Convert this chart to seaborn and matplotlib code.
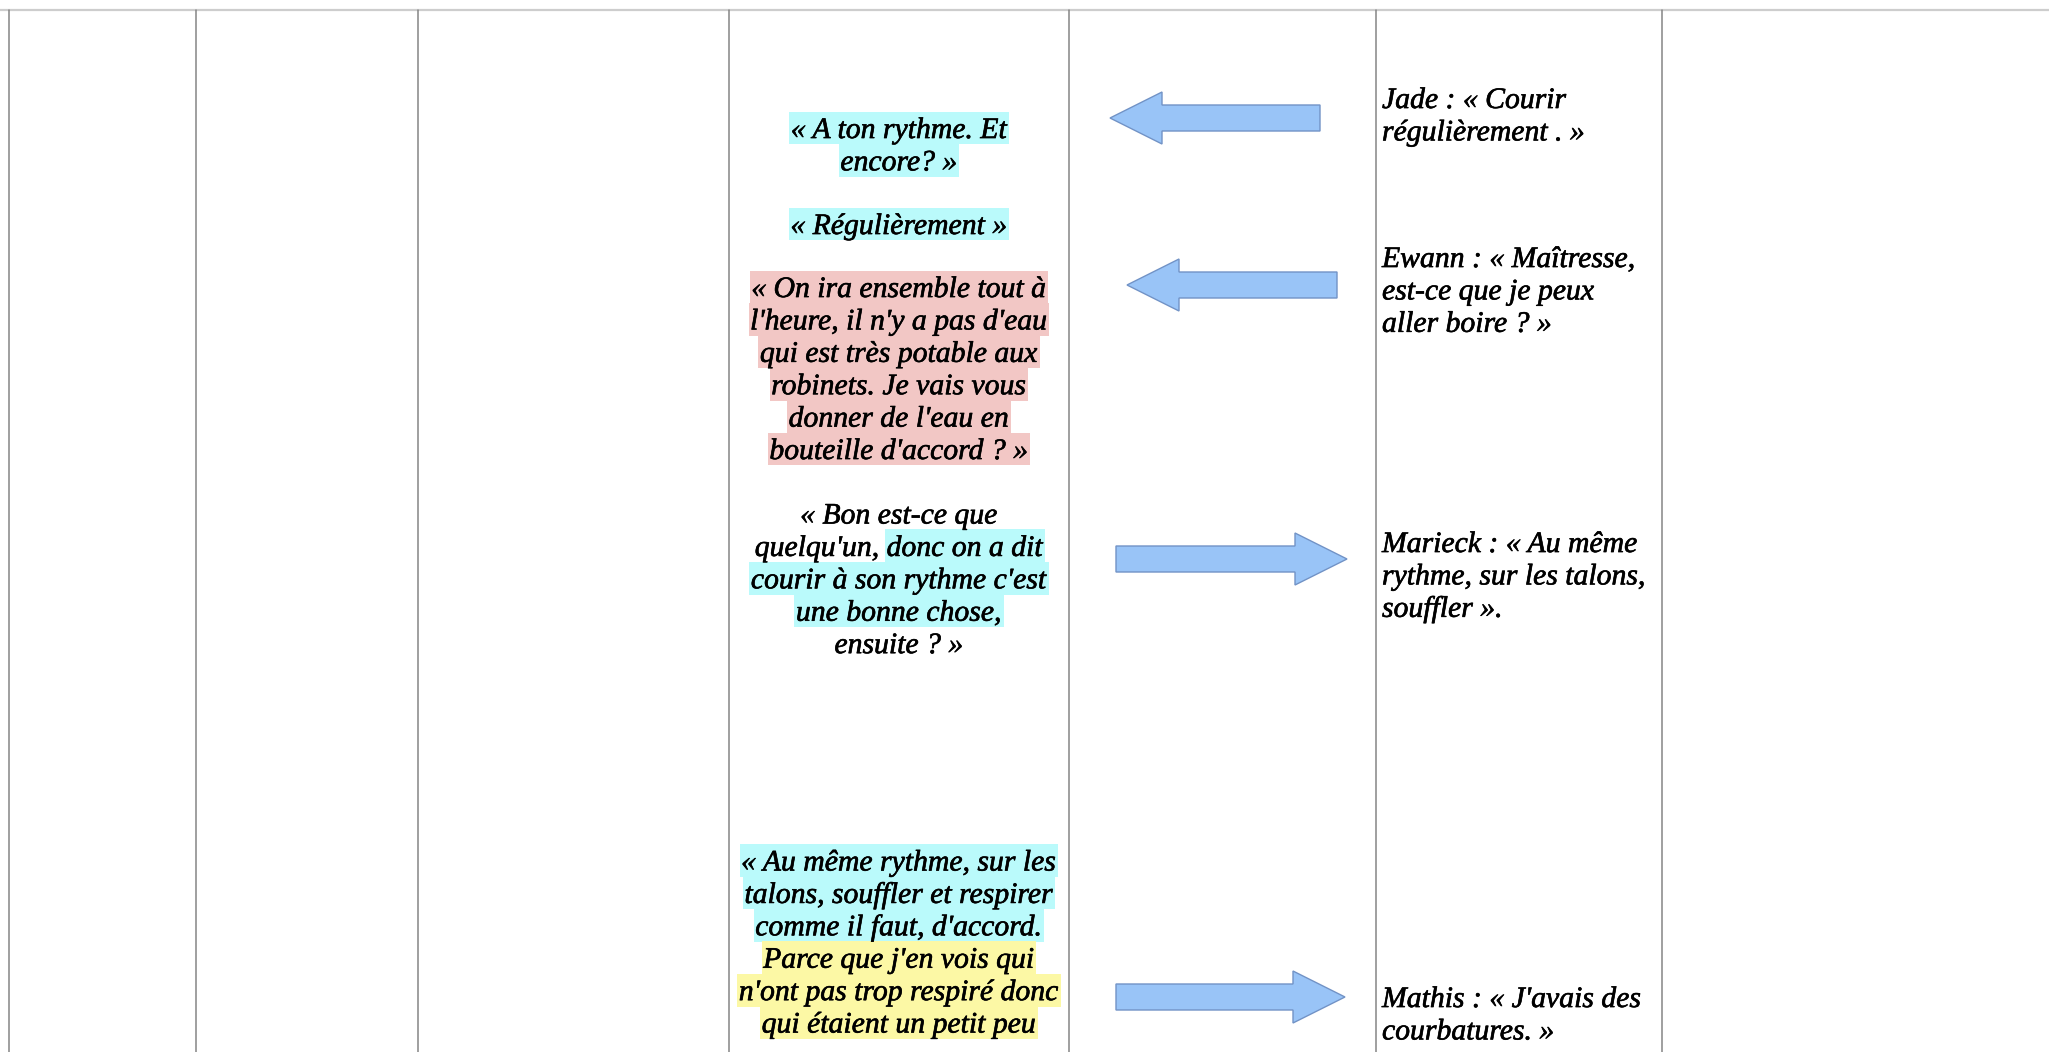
import matplotlib
matplotlib.use("Agg")
import matplotlib.pyplot as plt
from matplotlib.patches import FancyArrow, Rectangle
import matplotlib.patheffects as pe
import seaborn as sns

# paroles de l'enseignante (colonne centrale), par paragraphe
teacher_blocks = [
    ["« A ton rythme. Et", "encore? »"],
    ["« Régulièrement »"],
    ["« On ira ensemble tout à", "l'heure, il n'y a pas d'eau", "qui est très potable aux",
     "robinets. Je vais vous", "donner de l'eau en", "bouteille d'accord ? »"],
    ["« Bon est-ce que", "quelqu'un, donc on a dit", "courir à son rythme c'est",
     "une bonne chose,", "ensuite ? »"],
    ["« Au même rythme, sur les", "talons, souffler et respirer", "comme il faut, d'accord.",
     "Parce que j'en vois qui", "n'ont pas trop respiré donc", "qui étaient un petit peu"],
]
# surlignage de chaque ligne (None = pas de surlignage)
teacher_hl = [
    ["cyan", "cyan"],
    ["cyan"],
    ["pink"] * 6,
    [None, "cyan", "cyan", "cyan", None],
    ["cyan", "cyan", "cyan", "yellow", "yellow", "yellow"],
]
# partie surlignée quand seule la fin de la ligne l'est
teacher_hl_part = {"quelqu'un, donc on a dit": "donc on a dit"}

# réponses des élèves (colonne de droite)
pupil_blocks = [
    ["Jade : « Courir", "régulièrement . »"],
    ["Ewann : « Maîtresse,", "est-ce que je peux", "aller boire ? »"],
    ["Marieck : « Au même", "rythme, sur les talons,", "souffler »."],
    ["Mathis : « J'avais des", "courbatures. »"],
]
arrow_dir = ["left", "left", "right", "right"]

hl_colors = {"cyan": "#bafafb", "pink": "#f2c7c5", "yellow": "#fcf8a5"}

# mise en page (pixels)
W, H = 2049, 1052
col_x = [9, 196, 418, 729, 1069, 1376, 1662]
teacher_top = [128, 224, 287, 513.5, 860.5]
pupil_top = [98, 257, 542, 997]
pupil_x = 1382
arrow_y = [118, 285, 559, 997]
arrow_span = [(1320, 1110), (1337, 1127), (1116, 1347), (1116, 1345)]
line_h = 32.4
fsize = 21.4
em = fsize * 100 / 72

sns.set_theme(style="white")
plt.rcParams["font.family"] = ["Liberation Serif", "DejaVu Serif"]

fig = plt.figure(figsize=(W / 100, H / 100), dpi=100)
ax = fig.add_axes([0, 0, 1, 1])
ax.set_xlim(0, W)
ax.set_ylim(H, 0)
ax.axis("off")

# grille du tableau
ax.plot([0, W], [10, 10], color="#cdcdcd", lw=1.6, zorder=1)
for x in col_x:
    ax.plot([x, x], [10, H], color="#858585", lw=1.1, zorder=1)

renderer = fig.canvas.get_renderer()
inv = ax.transData.inverted()
heavy = [pe.withStroke(linewidth=0.45, foreground="#000000")]
txt_kw = dict(fontstyle="italic", fontsize=fsize, color="#000000", zorder=3)


def text_width(s):
    t = ax.text(0, 0, s, ha="left", va="baseline", **txt_kw)
    bb = t.get_window_extent(renderer)
    t.remove()
    return bb.width


cx = (col_x[3] + col_x[4]) / 2
for top, lines, hls in zip(teacher_top, teacher_blocks, teacher_hl):
    for i, (s, hl) in enumerate(zip(lines, hls)):
        yc = top + i * line_h
        base = yc + 0.3375 * em
        t = ax.text(cx, base, s, ha="center", va="baseline", path_effects=heavy, **txt_kw)
        if hl is None:
            continue
        bb = t.get_window_extent(renderer)
        x0 = inv.transform((bb.x0, 0))[0]
        x1 = inv.transform((bb.x1, 0))[0]
        if s in teacher_hl_part:
            x0 = x1 - text_width(teacher_hl_part[s])
        ax.add_patch(Rectangle((x0 - 1.5, base - 0.891 * em), x1 - x0 + 3, 1.107 * em,
                               facecolor=hl_colors[hl], edgecolor="none", zorder=2))

for top, lines in zip(pupil_top, pupil_blocks):
    for i, s in enumerate(lines):
        base = top + i * line_h + 0.3375 * em
        ax.text(pupil_x, base, s, ha="left", va="baseline", path_effects=heavy, **txt_kw)

for y, (xa, xb), d in zip(arrow_y, arrow_span, arrow_dir):
    ax.add_patch(FancyArrow(xa, y, xb - xa, 0, width=26, head_width=52, head_length=52,
                            length_includes_head=True, facecolor="#99c4f7",
                            edgecolor="#7293c6", lw=1.0, zorder=2))

sns.despine(ax=ax, left=True, bottom=True)
fig.savefig("out.png", dpi=100, facecolor="white")
